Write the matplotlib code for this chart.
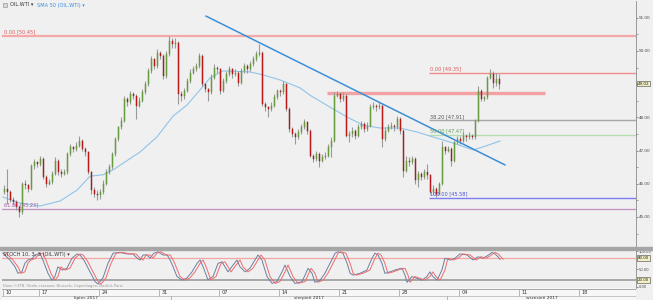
import numpy as np
import matplotlib
matplotlib.use("Agg")
import matplotlib.pyplot as plt
from matplotlib.patches import Rectangle

W, H = 653, 300

# 4h candles, 12 Jul - 6 Sep 2017 (opens = previous close)
first_open = 45.75
closes = [45.85, 45.75, 45.5, 45.45, 45.3, 45.15, 46.0, 45.95, 45.85, 46.55,
          46.65, 46.6, 46.75, 46.2, 46.0, 46.05, 46.3, 46.7, 46.35, 46.3,
          46.35, 46.9, 47.1, 47.05, 47.15, 47.3, 47.05, 46.95, 46.35, 45.8,
          45.7, 45.65, 45.75, 46.0, 46.35, 46.5, 46.9, 47.35, 47.7, 47.9,
          48.55, 48.45, 48.7, 48.65, 48.35, 48.5, 48.75, 49.0, 49.4, 49.75,
          49.55, 49.95, 49.85, 49.25, 49.9, 50.3, 50.2, 50.25, 48.7, 48.65,
          48.8, 49.1, 49.35, 49.45, 49.55, 49.85, 49.0, 48.85, 48.75, 49.2,
          49.5, 49.45, 48.8, 49.1, 49.3, 49.45, 49.3, 49.35, 49.05, 49.4,
          49.55, 49.45, 49.6, 49.75, 49.9, 49.95, 48.4, 48.3, 48.25, 48.35,
          48.6, 48.8, 48.75, 49.0, 48.25, 47.65, 47.5, 47.4, 47.55, 47.7,
          47.85, 47.6, 46.85, 46.75, 46.9, 46.7, 46.8, 46.85, 47.1, 47.3,
          48.65, 48.7, 48.55, 48.65, 47.45, 47.5, 47.6, 47.45, 47.7, 47.8,
          47.65, 47.75, 48.3, 48.35, 48.3, 48.35, 47.35, 47.6, 47.7, 47.75,
          47.7, 47.95, 47.6, 46.4, 46.7, 46.65, 46.75, 46.1, 46.3, 46.2,
          46.35, 46.25, 45.75, 45.85, 45.7, 46.0, 47.1, 47.0, 47.05, 46.7,
          47.25, 47.35, 47.3, 47.45, 47.4, 47.45, 47.4, 47.9, 48.8, 48.55,
          48.6, 49.2, 49.3, 49.05, 49.15, 49.02]
highs = [45.95, 46.45, 45.8, 45.6, 45.5, 45.35, 46.05, 46.1, 46.0, 46.6,
         46.75, 46.7, 46.85, 46.8, 46.25, 46.15, 46.4, 46.8, 46.75, 46.45,
         46.45, 46.95, 47.2, 47.15, 47.25, 47.45, 47.35, 47.1, 47.0, 46.4,
         45.9, 45.8, 45.85, 46.1, 46.45, 46.6, 46.95, 47.4, 47.75, 48.0,
         48.65, 48.6, 48.8, 48.75, 48.7, 48.6, 48.85, 49.1, 49.5, 49.85,
         49.8, 50.05, 50.0, 49.9, 50.0, 50.45, 50.4, 50.4, 50.3, 48.8,
         48.9, 49.2, 49.45, 49.55, 49.65, 49.95, 49.9, 49.05, 48.9, 49.3,
         49.6, 49.55, 49.5, 49.2, 49.4, 49.55, 49.5, 49.45, 49.4, 49.5,
         49.65, 49.6, 49.7, 49.85, 50.0, 50.2, 50.0, 48.45, 48.35, 48.45,
         48.7, 48.85, 48.85, 49.1, 49.05, 48.3, 47.7, 47.55, 47.65, 47.8,
         47.95, 47.9, 47.65, 46.9, 47.0, 46.95, 46.9, 46.95, 47.2, 47.4,
         48.75, 48.8, 48.75, 48.75, 48.7, 47.6, 47.7, 47.65, 47.8, 47.9,
         47.85, 47.85, 48.4, 48.45, 48.4, 48.45, 48.4, 47.7, 47.8, 47.85,
         47.8, 48.05, 48.0, 47.65, 46.85, 46.8, 46.85, 46.8, 46.4, 46.35,
         46.45, 46.6, 46.3, 45.95, 45.9, 46.05, 47.3, 47.15, 47.15, 47.1,
         47.3, 47.45, 47.45, 47.55, 47.5, 47.55, 47.5, 47.95, 48.95, 48.85,
         48.65, 49.25, 49.45, 49.4, 49.35, 49.3]
lows = [45.7, 45.4, 45.45, 45.35, 45.2, 45.0, 45.1, 45.85, 45.75, 45.8,
        46.45, 46.5, 46.55, 46.15, 45.9, 45.95, 46.0, 46.25, 46.25, 46.2,
        46.25, 46.3, 46.85, 46.95, 47.0, 47.1, 47.0, 46.85, 46.3, 45.7,
        45.6, 45.5, 45.55, 45.7, 45.95, 46.3, 46.45, 46.85, 47.3, 47.65,
        47.85, 48.35, 48.4, 48.55, 47.95, 48.3, 48.45, 48.7, 48.95, 49.35,
        49.45, 49.5, 49.75, 49.15, 49.2, 49.85, 50.1, 50.1, 48.4, 48.5,
        48.55, 48.75, 49.05, 49.3, 49.4, 49.5, 48.95, 48.75, 48.5, 48.7,
        49.15, 49.35, 48.7, 48.75, 49.05, 49.25, 49.2, 49.25, 48.95, 49.0,
        49.35, 49.35, 49.4, 49.55, 49.7, 49.85, 48.35, 48.2, 48.0, 48.2,
        48.3, 48.55, 48.65, 48.7, 48.2, 47.55, 47.4, 47.2, 47.35, 47.5,
        47.65, 47.5, 46.8, 46.65, 46.7, 46.5, 46.65, 46.75, 46.8, 46.8,
        47.25, 48.6, 48.45, 48.5, 47.4, 47.25, 47.4, 47.35, 47.4, 47.65,
        47.55, 47.6, 47.7, 48.25, 48.2, 48.25, 47.1, 47.3, 47.55, 47.65,
        47.6, 47.65, 47.5, 46.2, 46.35, 46.55, 46.6, 46.0, 45.9, 46.1,
        46.15, 46.15, 45.7, 45.65, 45.6, 45.65, 45.95, 46.9, 46.95, 46.55,
        46.65, 47.2, 47.2, 47.25, 47.3, 47.35, 47.35, 47.35, 47.85, 48.5,
        48.5, 48.55, 49.15, 48.9, 48.95, 48.85]

# SMA 50 (candle index, price)
sma_idx = [-0.5, 5.2, 11.8, 18.5, 24.2, 28.5, 32.8, 36.2, 45.2, 50.8,
           56.2, 60.8, 65.2, 68.5, 72.8, 81.8, 86.2, 91.8, 98.5, 101.8,
           108.5, 114.2, 119.5, 125.2, 131.8, 137.5, 142.8, 149.5, 156.2,
           159.5, 165.2]
sma_val = [45.60, 45.42, 45.33, 45.48, 45.81, 46.23, 46.27, 46.42, 46.96,
           47.41, 48.04, 48.37, 48.83, 49.19, 49.40, 49.37, 49.28, 49.13,
           48.89, 48.67, 48.31, 48.01, 47.77, 47.68, 47.68, 47.56, 47.41,
           47.23, 47.02, 47.11, 47.29]

# downtrend line
trend_idx = [67.2, 166.8]
trend_val = [51.05, 46.57]

# fibo sets
fib_a_levels = [50.45, 45.23]
fib_a_labels = ["0.00 [50.45]", "61.80 [45.23]"]
fib_a_colors = ["#f4a8a8", "#c38fc3"]
fib_a_text = ["#e05555", "#a55aa5"]
fib_b_start = 141.5
fib_b_levels = [49.35, 47.91, 47.47, 45.58]
fib_b_labels = ["0.00 [49.35]", "38.20 [47.91]", "50.00 [47.47]", "100.00 [45.58]"]
fib_b_colors = ["#f08c8c", "#a8a8a8", "#b5dcae", "#7d7df2"]
fib_b_text = ["#e05555", "#555555", "#58a058", "#4b4be0"]

# resistance zone
zone_val = 48.73
zone_idx = [107.5, 180.2]

last_price = 49.02
price_ticks = [45, 46, 47, 48, 49, 50, 51]

# stochastic %K
stoch_idx = [-0.5, 1.8, 3.5, 4.5, 5.8, 6.8, 7.8, 9.2, 10.2, 11.8,
             12.8, 14.5, 15.8, 16.8, 17.8, 19.2, 20.8, 22.5, 24.2, 25.2,
             26.8, 28.5, 30.2, 31.2, 32.8, 34.5, 36.2, 38.5, 40.8, 42.8,
             44.2, 45.2, 46.2, 47.5, 48.5, 49.8, 51.2, 52.8, 54.2, 55.2,
             56.2, 57.5, 59.2, 60.8, 62.5, 64.2, 65.2, 66.2, 67.8, 69.5,
             71.2, 72.5, 73.5, 74.5, 76.2, 77.5, 78.5, 80.2, 81.8, 83.5,
             84.5, 85.8, 87.5, 89.2, 90.8, 92.5, 93.5, 95.2, 96.8, 99.2,
             101.2, 102.5, 103.5, 105.2, 106.8, 108.5, 110.2, 111.2, 112.8, 114.2,
             115.2, 116.2, 118.5, 120.8, 122.5, 123.5, 124.5, 125.8, 126.8, 128.5,
             130.8, 132.5, 133.5, 134.2, 135.8, 137.5, 139.2, 140.8, 141.8, 142.8,
             144.2, 145.8, 146.8, 148.5, 150.2, 151.8, 154.2, 156.2, 157.8, 159.5,
             160.8, 162.5, 163.5, 164.5, 165.2]
stoch_k = [94, 75, 56, 38, 42, 66, 75, 79, 89, 94,
           75, 38, 19, 29, 56, 47, 52, 80, 92, 89,
           70, 42, 15, 8, 25, 66, 94, 96, 92, 92,
           80, 75, 89, 89, 80, 94, 98, 89, 89, 75,
           56, 29, 19, 25, 42, 66, 75, 56, 20, 29,
           66, 70, 56, 42, 61, 75, 56, 42, 52, 75,
           89, 75, 29, 10, 15, 42, 61, 29, 10, 15,
           52, 38, 13, 19, 38, 66, 94, 98, 94, 66,
           38, 33, 38, 47, 80, 94, 89, 66, 38, 42,
           49, 52, 33, 13, 29, 24, 19, 29, 42, 29,
           19, 47, 80, 75, 80, 92, 89, 75, 84, 80,
           86, 96, 92, 84, 77]
stoch_lag = 1.0

# date axis
week_idx = [11.5, 31.5, 51.5, 71.5, 91.5, 111.5, 131.5, 151.5, 171.5, 191.5]
week_labels = ["17", "24", "31", "07", "14", "21", "28", "04", "11", "18"]
month_edges = [55.5, 147.5]
month_labels = ["lipiec 2017", "sierpień 2017", "wrzesień 2017"]

XMIN, XMAX = -0.833, 210.5
BG = "#f0f0f0"
FS = 3.6
AFS = 3.0   # right axis labels


def fx(px):
    return px / W


def fy(py):
    return 1 - py / H


fig = plt.figure(figsize=(W / 100, H / 100), dpi=100, facecolor=BG)

# ---- main price panel ----
ax = fig.add_axes([fx(2), fy(247), 634 / W, 246 / H], facecolor=BG)
ax.set_xlim(XMIN, XMAX)
ax.set_ylim(44.096, 51.506)

opens = np.array([first_open] + closes[:-1])
c = np.array(closes)
idx = np.arange(len(c))
up = c >= opens
bot = np.minimum(opens, c)
hgt = np.maximum(np.abs(c - opens), 0.025)

ax.vlines(idx, lows, highs, color="#9a9a9a", lw=0.8, zorder=3)
ax.bar(idx[up], hgt[up], bottom=bot[up], width=0.62, color="#72ad48",
       edgecolor="#55882f", lw=0.3, zorder=4)
ax.bar(idx[~up], hgt[~up], bottom=bot[~up], width=0.62, color="#e01818",
       edgecolor="#8a1515", lw=0.3, zorder=4)

ax.plot(sma_idx, sma_val, color="#90c4ea", lw=0.8, zorder=2)
ax.plot(trend_idx, trend_val, color="#3d8fd6", lw=1.1, zorder=5)

for lv, lb, lc, tc in zip(fib_a_levels, fib_a_labels, fib_a_colors, fib_a_text):
    ax.axhline(lv, color=lc, lw=1.6 if lv > 50 else 0.9, zorder=1)
    ax.annotate(lb, (XMIN, lv), xytext=(1.5, 1.2), textcoords="offset points",
                fontsize=FS, color=tc, va="bottom", zorder=6)
for lv, lb, lc, tc in zip(fib_b_levels, fib_b_labels, fib_b_colors, fib_b_text):
    ax.hlines(lv, fib_b_start, XMAX, color=lc, lw=1.0, zorder=1)
    ax.annotate(lb, (fib_b_start, lv), xytext=(1.0, 1.0), textcoords="offset points",
                fontsize=FS, color=tc, va="bottom", zorder=6)
ax.hlines(zone_val, zone_idx[0], zone_idx[1], color="#f2a2a2", lw=2.4, zorder=1)

ax.yaxis.tick_right()
ax.set_yticks(price_ticks)
ax.set_yticklabels(["" if v == 49 else f"{v:.2f}" for v in price_ticks])
ax.set_yticks(np.arange(44.5, 51.0, 1.0), minor=True)
ax.tick_params(axis="y", which="major", labelsize=AFS, length=1.6, width=0.4,
               pad=0.5, colors="#444444")
ax.tick_params(axis="y", which="minor", length=1.2, width=0.4, colors="#666666")
ax.set_xticks([])
for s in ["top", "left", "bottom"]:
    ax.spines[s].set_visible(False)
ax.spines["right"].set_color("#8a8a8a")
ax.spines["right"].set_linewidth(0.6)
ax.text(1.003, last_price, f"{last_price:.2f}", transform=ax.get_yaxis_transform(),
        fontsize=AFS, va="center", ha="left", color="#222222", clip_on=False, zorder=10,
        bbox=dict(boxstyle="square,pad=0.2", fc="#f3efc4", ec="#444444", lw=0.4))

# ---- stochastic panel ----
ax2 = fig.add_axes([fx(2), fy(288), 634 / W, 39 / H], facecolor=BG)
ax2.set_xlim(XMIN, XMAX)
ax2.set_ylim(-2.8, 105.6)
ax2.axhline(80, color="#f2a6a6", lw=0.9, zorder=1)
ax2.axhline(20, color="#a2a2a2", lw=1.3, zorder=1)
ax2.plot(stoch_idx, stoch_k, color="#6b7fa3", lw=0.7, zorder=3)
ax2.plot(np.array(stoch_idx) + stoch_lag, stoch_k, color="#f06a6a", lw=0.7, zorder=4)
ax2.yaxis.tick_right()
ax2.set_yticks([0, 50, 100])
ax2.set_yticklabels(["0.00", "50.00", "100.00"])
ax2.tick_params(axis="y", labelsize=2.6, length=1.4, width=0.4, pad=0.5, colors="#444444")
ax2.set_xticks([])
for s in ["top", "left", "bottom"]:
    ax2.spines[s].set_visible(False)
ax2.spines["right"].set_color("#8a8a8a")
ax2.spines["right"].set_linewidth(0.6)
for lv in [80, 20]:
    ax2.text(1.003, lv, f"{lv:.2f}", transform=ax2.get_yaxis_transform(),
             fontsize=2.8, va="center", ha="left", color="#222222", clip_on=False,
             bbox=dict(boxstyle="square,pad=0.2", fc="#f3efc4", ec="#444444", lw=0.4))

# ---- date axis ----
axd = fig.add_axes([fx(2), 0, 634 / W, 12 / H], facecolor="#f7f7f7")
axd.set_xlim(XMIN, XMAX)
axd.set_ylim(12, 0)
axd.axis("off")
axd.add_patch(Rectangle((XMIN, 0), XMAX - XMIN, 12, color="#f7f7f7", zorder=0))
axd.axhline(1, color="#9a9a9a", lw=0.6)
axd.axhline(8, color="#b0b0b0", lw=0.5)
axd.vlines([XMIN + 0.2], 1, 8, color="#9a9a9a", lw=0.5)
axd.text(XMIN + 1.0, 4.6, "10", fontsize=FS, va="center", color="#333333")
for wi, wl in zip(week_idx, week_labels):
    axd.vlines(wi, 1, 8, color="#9a9a9a", lw=0.5)
    axd.text(wi + 1.0, 4.6, wl, fontsize=FS, va="center", color="#333333")
edges = [XMIN] + month_edges + [XMAX]
for e in month_edges:
    axd.vlines(e, 8, 12, color="#9a9a9a", lw=0.5)
for i, ml in enumerate(month_labels):
    axd.text((edges[i] + edges[i + 1]) / 2, 10.0, ml, fontsize=3.2, ha="center",
             va="center", color="#333333")

# separators and header
fig.patches.append(Rectangle((fx(0), fy(249.5)), 1, 2.5 / H, transform=fig.transFigure,
                             color="#a5a5a5", zorder=5))
fig.patches.append(Rectangle((fx(3), fy(7)), 4 / W, 4 / H, transform=fig.transFigure,
                             fc="#d8d8d8", ec="#888888", lw=0.4, zorder=5))
fig.text(fx(10), fy(5), "OIL.WTI ▾", fontsize=FS, color="#333333", va="center")
fig.text(fx(37), fy(5), "SMA 50 (OIL.WTI) ▾", fontsize=FS, color="#3a8ee0", va="center")
fig.text(fx(3), fy(254.5), "STOCH 10, 3, 3 (OIL.WTI) ▾", fontsize=FS, color="#333333",
         va="center")
fig.text(fx(3), fy(286.3), "Dane ©XTB. Strefa czasowa: Brussels, Copenhagen, Madrid, Paris",
         fontsize=2.6, color="#9a9a9a", va="center")

fig.savefig("out.png", dpi=100, facecolor=BG)
